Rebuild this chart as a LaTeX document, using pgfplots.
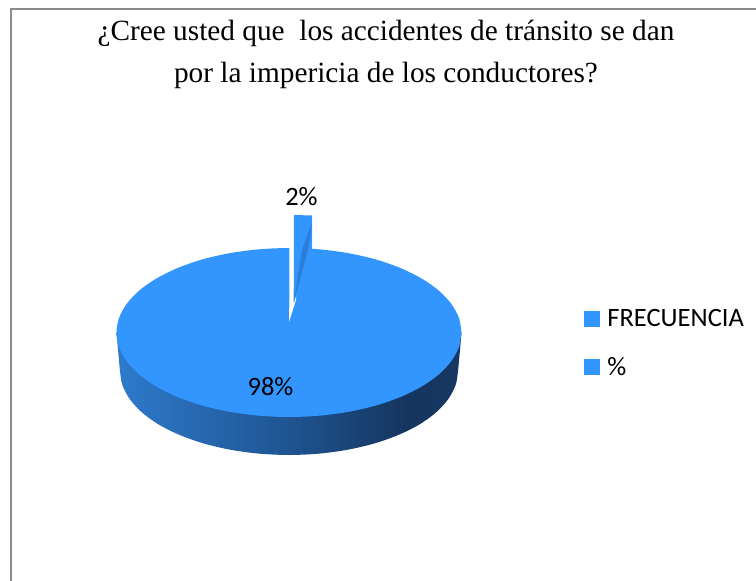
\documentclass[border=0pt]{standalone}
\usepackage{pgfplots}
\pgfplotsset{compat=1.18}
\usepackage{fontspec}
\setmainfont{Liberation Serif}
\newfontfamily\calibri{Carlito}
\definecolor{pieblue}{HTML}{3396FF}
\definecolor{piedark}{HTML}{2B7DD6}
\definecolor{framegray}{HTML}{8C8C8C}
\pgfdeclarehorizontalshading{sideshade}{100bp}{
  rgb(0bp)=(0.19,0.52,0.87);
  rgb(25bp)=(0.18,0.48,0.80);
  rgb(50bp)=(0.12,0.33,0.57);
  rgb(67bp)=(0.08,0.21,0.37);
  rgb(100bp)=(0.09,0.24,0.42)}
\begin{document}
\begin{tikzpicture}
\begin{axis}[
    at={(0,0)}, anchor=south west,
    width=756pt, height=581pt, scale only axis,
    xmin=0, xmax=756, ymin=0, ymax=581,
    y dir=reverse,
    hide axis,
    clip=false,
    /pgf/number format/assume math mode=true,
    legend style={at={(axis cs:584,309)}, anchor=north west, draw=none, fill=none,
        font=\calibri\fontsize{26.5}{28}\selectfont, row sep=29.5pt,
        inner sep=0pt, outer sep=0pt, nodes={inner xsep=0pt, inner ysep=0pt}},
    legend cell align=left,
]
% frame
\addplot[forget plot, framegray, line width=2pt] coordinates {(10.5,581) (10.5,9) (756,9)};
% side of the pie
\addplot[forget plot, draw=none, shade, shading=sideshade, smooth] coordinates {
    (116.5,332.5) (120,371) (122.6,385.6) (130.2,399.7) (142.6,413) (159.5,425)
    (180.4,435.3) (204.5,443.7) (231.2,449.9) (259.7,453.7) (289,455)
    (318.3,453.7) (346.8,449.9) (373.5,443.7) (397.6,435.3) (418.5,425)
    (435.4,413) (447.8,399.7) (455.4,385.6) (458,371) (461.5,332.5)} -- cycle;
% top of the 98% slice
\addplot[forget plot, draw=none, fill=pieblue, smooth] coordinates {
    (461.5,332.5) (458.9,347.2) (451.1,361.4) (438.4,374.75) (421.1,386.8)
    (399.9,397.2) (375.25,405.7) (348,411.9) (318.9,415.7) (289,417)
    (259.1,415.7) (230,411.9) (202.75,405.7) (178.1,397.2) (156.9,386.8)
    (139.6,374.75) (126.9,361.4) (119.1,347.2) (116.5,332.5)
    (119.1,317.8) (126.9,303.6) (139.6,290.25) (156.9,278.2) (178.1,267.8)
    (202.75,259.3) (230,253.1) (259.1,249.3) (289,248)
    (318.9,249.3) (348,253.1) (375.25,259.3) (399.9,267.8) (421.1,278.2)
    (438.4,290.25) (451.1,303.6) (458.9,317.8) (461.5,332.5)} -- cycle;
% gap and the pulled-out 2% slice
\addplot[forget plot, draw=none, fill=white] coordinates {
    (289.3,240) (296,240) (296,300) (289,322) (289.3,305)} -- cycle;
\addplot[forget plot, draw=none, fill=pieblue] coordinates {
    (294,215) (312,215.5) (312,249) (293.7,303)} -- cycle;
\addplot[forget plot, draw=none, fill=piedark] coordinates {
    (311.8,223) (302,250) (294,302) (308.5,248)} -- cycle;
% data labels
\addplot[forget plot, only marks, mark=none, point meta=explicit,
    nodes near coords={\calibri\fontsize{26.5}{28}\selectfont\pgfmathprintnumber{\pgfplotspointmeta}\%},
    every node near coord/.append style={anchor=center, inner sep=0pt, text=black}]
    coordinates {(270.5,386.5)[98] (301.5,197)[2]};
% legend
\addlegendimage{legend image code/.code={\fill[pieblue] (0pt,-7.5pt) rectangle (15pt,7.5pt); \path (23pt,0pt);}}
\addlegendentry{FRECUENCIA}
\addlegendimage{legend image code/.code={\fill[pieblue] (0pt,-7.5pt) rectangle (15pt,7.5pt); \path (23pt,0pt);}}
\addlegendentry{\%}
% title
\node[align=center, font=\fontsize{29.3}{42}\selectfont, anchor=center]
    at (axis cs:386,54) {¿Cree usted que\ \ los accidentes de tránsito se dan\\por la impericia de los conductores?};
\end{axis}
\pgfresetboundingbox
\path[use as bounding box] (0,0) rectangle (756pt,581pt);
\end{tikzpicture}
\end{document}
